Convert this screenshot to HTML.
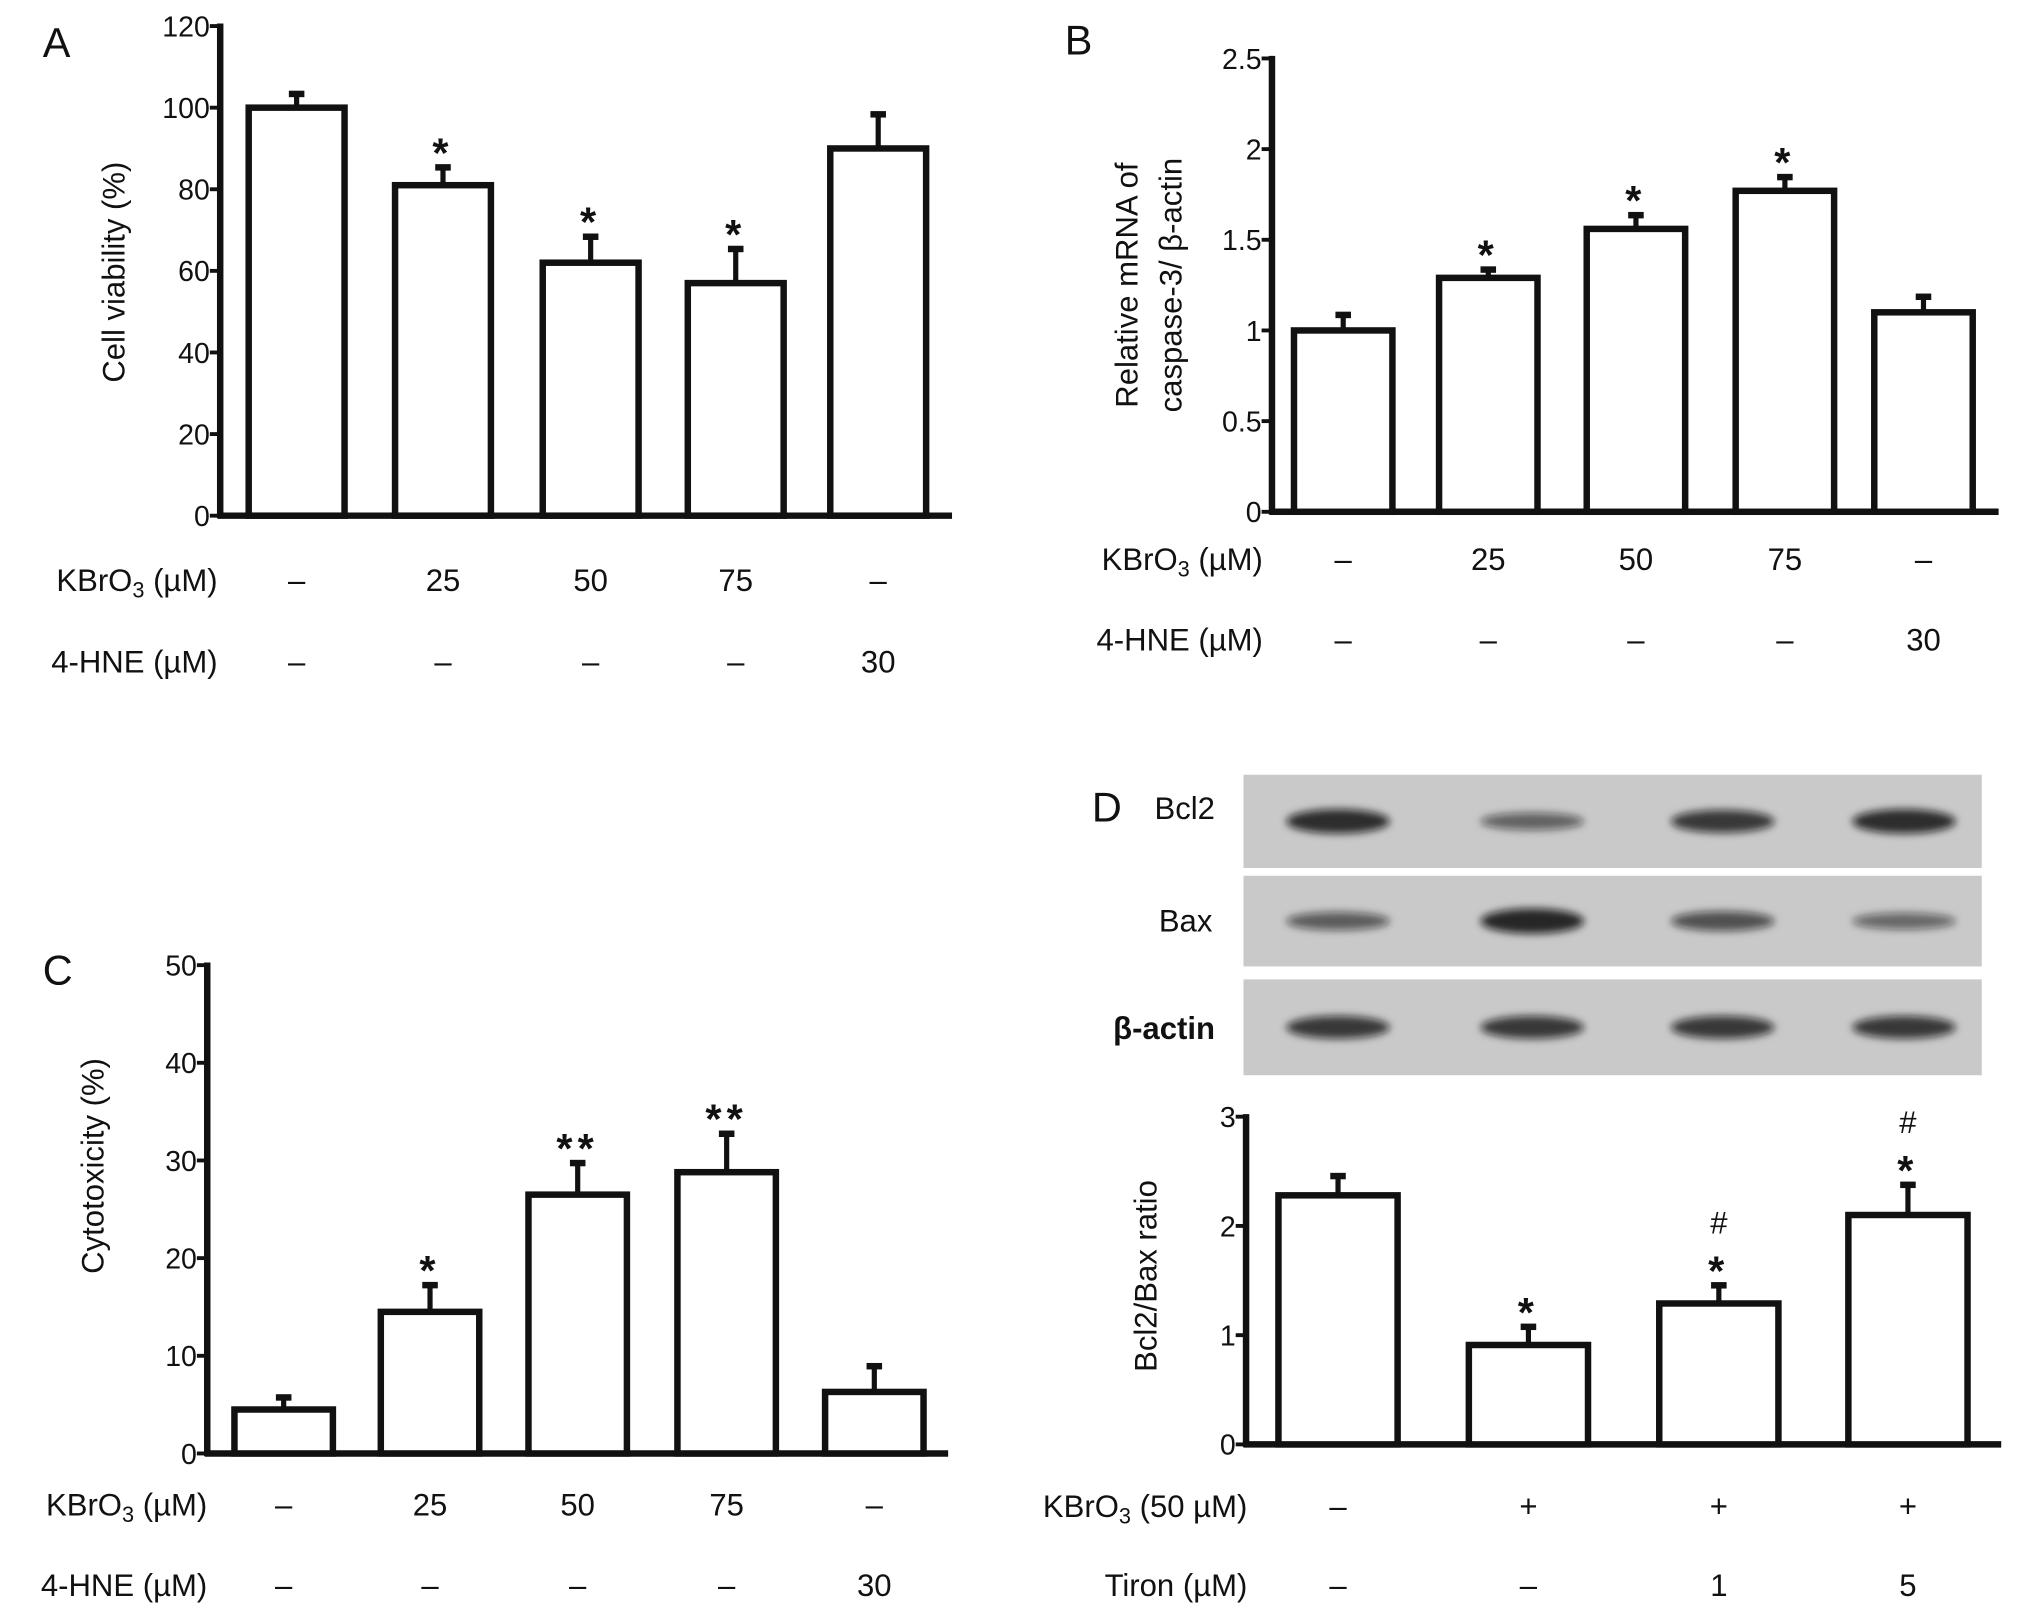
<!DOCTYPE html>
<html><head><meta charset="utf-8"><style>
html,body{margin:0;padding:0;background:#fff;}
svg{display:block;font-family:"Liberation Sans",sans-serif;}
</style></head><body>
<svg id="fig" width="2031" height="1622" viewBox="0 0 1568 1252">
<defs>
<filter id="blur" x="-20%" y="-50%" width="140%" height="200%"><feGaussianBlur stdDeviation="3"/></filter>
</defs>
</svg>
<script>
// Panel A data
const aCats=["–","25","50","75","–"];
const aCats2=["–","–","–","–","30"];
const aVals=[100,81,62,57,90];
const aErr=[104,86,69,66,99];
const aSig=["","*","*","*",""];
const aTicks=[0,20,40,60,80,100,120];
// Panel B data
const bCats=["–","25","50","75","–"];
const bCats2=["–","–","–","–","30"];
const bVals=[1.0,1.29,1.56,1.77,1.1];
const bErr=[1.1,1.35,1.65,1.86,1.2];
const bSig=["","*","*","*",""];
const bTicks=[0,0.5,1,1.5,2,2.5];
// Panel C data
const cCats=["–","25","50","75","–"];
const cCats2=["–","–","–","–","30"];
const cVals=[4.5,14.5,26.5,28.8,6.3];
const cErr=[6,17.5,30,33,9.2];
const cSig=["","*","**","**",""];
const cTicks=[0,10,20,30,40,50];
// Panel D data
const dCats=["–","+","+","+"];
const dCats2=["–","–","1","5"];
const dVals=[2.28,0.91,1.29,2.1];
const dErr=[2.48,1.1,1.48,2.4];
const dSig=["","*","*","*"];
const dHash=["","","#","#"];
const dTicks=[0,1,2,3];
const bcl2=[0.9,0.45,0.8,0.9];
const bax=[0.5,0.95,0.6,0.4];
const actin=[0.8,0.8,0.8,0.8];

const svg=document.getElementById('fig');
const NS='http://www.w3.org/2000/svg';
function el(tag,attrs,parent){const e=document.createElementNS(NS,tag);for(const k in attrs)e.setAttribute(k,attrs[k]);(parent||svg).appendChild(e);return e;}
function txt(s,x,y,size,anchor,parent,extra){const t=el('text',Object.assign({x:x,y:y,'font-size':size,'text-anchor':anchor||'middle',fill:'#111'},extra||{}),parent);t.textContent=s;return t;}
function kbr(g,x,y,size,suffix){const t=el('text',{x:x,y:y,'font-size':size,'text-anchor':'end',fill:'#111'},g);
 t.appendChild(document.createTextNode('KBrO'));
 const s=document.createElementNS(NS,'tspan');s.setAttribute('font-size',size*0.7);s.setAttribute('dy',5);s.textContent='3';t.appendChild(s);
 const s2=document.createElementNS(NS,'tspan');s2.setAttribute('dy',-5);s2.textContent=suffix;t.appendChild(s2);return t;}

function panel(o){
 const g=el('g',{});
 
 
 const y=v=>o.y0-(v-o.min)/(o.max-o.min)*(o.y0-o.yTop);
 const ax=el('line',{x1:o.ax,y1:o.yTop-2,x2:o.ax,y2:o.y0+2,stroke:'#111','stroke-width':5},g);
 
 const xx=el('line',{x1:o.ax-2,y1:o.y0,x2:o.axEnd,y2:o.y0,stroke:'#111','stroke-width':5},g);
 
 o.ticks.forEach(t=>{
  el('line',{x1:o.ax-8,y1:y(t),x2:o.ax,y2:y(t),stroke:'#111','stroke-width':3},g);
  const tl=txt(String(t),o.ax-8,y(t)+8,22,'end',g);
  
 });
 o.vals.forEach((v,i)=>{
  const cx=o.centers[i];
  const top=y(v);
  const e=el('line',{x1:cx,y1:top,x2:cx,y2:y(o.err[i]),stroke:'#111','stroke-width':4},g);
  
  el('line',{x1:cx-6,y1:y(o.err[i])+2,x2:cx+6,y2:y(o.err[i])+2,stroke:'#111','stroke-width':5},g);
  const r=el('rect',{x:cx-o.bw/2,y:top,width:o.bw,height:o.y0-top,fill:'#fff',stroke:'#111','stroke-width':5},g);
  
  if(o.sig[i]){const s=txt(o.sig[i],cx,y(o.err[i])+2,32,'middle',g,{'font-weight':'bold','letter-spacing':'4'});
   }
  if(o.hash&&o.hash[i]){const h=txt(o.hash[i],cx,y(o.err[i])-38,24,'middle',g);
   }
  const c1=txt(o.cats[i],cx,o.row1+8,24,'middle',g);
  const c2=txt(o.cats2[i],cx,o.row2+8,24,'middle',g);
 });
 const k=kbr(g,o.labX,o.row1+8,24,o.kSuffix);
 const r2=txt(o.row2Label,o.labX,o.row2+8,24,'end',g);
 o.titles.forEach((t,j)=>{const tt=txt(t,0,0,24,'middle',g,{transform:`translate(${o.titleX+j*34},${o.titleY}) rotate(-90)`});
  });
 const L=txt(o.letter,o.letX,o.letY,32,'start',g);
}

panel({name:'panel-a',min:0,max:120,ax:170,axEnd:735,yTop:20,y0:398,ticks:aTicks,vals:aVals,err:aErr,sig:aSig,
 centers:[229,342,456,568,678],bw:74,cats:aCats,cats2:aCats2,row1:448,row2:511,labX:168,kSuffix:' (µM)',row2Label:'4-HNE (µM)',
 titles:['Cell viability (%)'],titleX:96,titleY:210,letter:'A',letX:33,letY:44});
panel({name:'panel-b',min:0,max:2.5,ax:982,axEnd:1543,yTop:45,y0:395,ticks:bTicks,vals:bVals,err:bErr,sig:bSig,
 centers:[1037,1149,1263,1378,1485],bw:76,cats:bCats,cats2:bCats2,row1:432,row2:494,labX:975,kSuffix:' (µM)',row2Label:'4-HNE (µM)',
 titles:['Relative mRNA of','caspase-3/ β-actin'],titleX:878,titleY:220,letter:'B',letX:822,letY:42});
panel({name:'panel-c',min:0,max:50,ax:160,axEnd:732,yTop:745,y0:1122,ticks:cTicks,vals:cVals,err:cErr,sig:cSig,
 centers:[219,332,446,561,675],bw:76,cats:cCats,cats2:cCats2,row1:1162,row2:1224,labX:160,kSuffix:' (µM)',row2Label:'4-HNE (µM)',
 titles:['Cytotoxicity (%)'],titleX:80,titleY:900,letter:'C',letX:33,letY:760});
panel({name:'panel-d',min:0,max:3,ax:962,axEnd:1545,yTop:862,y0:1115,ticks:dTicks,vals:dVals,err:dErr,sig:dSig,hash:dHash,
 centers:[1033,1180,1327,1473],bw:92,cats:dCats,cats2:dCats2,row1:1163,row2:1224,labX:963,kSuffix:' (50 µM)',row2Label:'Tiron (µM)',
 titles:['Bcl2/Bax ratio'],titleX:893,titleY:985,letter:'D',letX:843,letY:634});

const blot=el('g',{});


const strips=[{y:598,h:72,d:bcl2,n:'Bcl2',lx:938,ly:632},{y:676,h:70,d:bax,n:'Bax',lx:936,ly:719},{y:756,h:74,d:actin,n:'β-actin',lx:938,ly:802}];
const lanes=[1033,1183,1330,1470];
strips.forEach(s=>{
 const r=el('rect',{x:960,y:s.y,width:570,height:s.h,fill:'#c9c9c9'},blot);
 
 s.d.forEach((v,i)=>{
  const b=el('ellipse',{cx:lanes[i],cy:s.y+s.h/2,rx:40,ry:4+v*6,fill:'#111','fill-opacity':0.3+v*0.6,filter:'url(#blur)'},blot);
  
 });
 const t=txt(s.n,s.lx,s.ly,24,'end',blot,s.n==='β-actin'?{'font-weight':'bold'}:{});
 
});
</script>
</body></html>
